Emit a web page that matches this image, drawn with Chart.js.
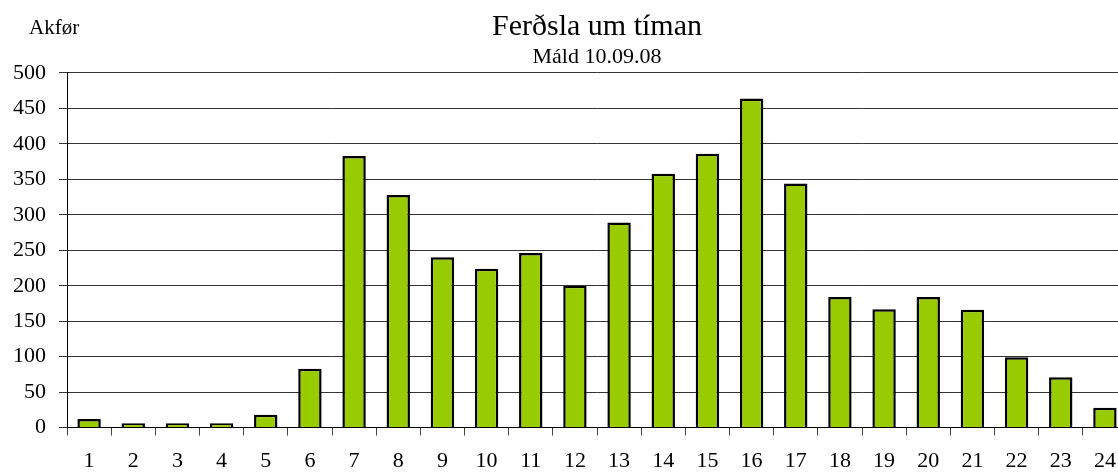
<!DOCTYPE html>
<html>
<head>
<meta charset="utf-8">
<script src="https://cdn.jsdelivr.net/npm/chart.js@4/dist/chart.umd.min.js"></script>
<style>
  html, body { margin: 0; padding: 0; background: #fff; overflow: hidden; }
  #box { width: 1200px; height: 486px; }
</style>
</head>
<body>
<div id="box"><canvas id="trafficChart" width="1200" height="486"></canvas></div>
<script>
const CHART = document.getElementById("trafficChart");

// timar (1-24) og akfør pr. tima
const hours = ["1", "2", "3", "4", "5", "6", "7", "8", "9", "10", "11", "12",
  "13", "14", "15", "16", "17", "18", "19", "20", "21", "22", "23", "24"];
const akfor = [12, 6, 6, 6, 18, 83, 383, 328, 240, 224, 246, 200,
  289, 358, 386, 464, 344, 184, 167, 184, 166, 99, 71, 28];
const yMin = 0;
const yMax = 500;
const yStep = 50;

const titleText = "Ferðsla um tíman";
const subtitleText = "Máld 10.09.08";
const yLabel = "Akfør";

const FONT = "'Liberation Serif', 'Times New Roman', serif";

// "Akfør" uppi til vinstru
const axisLabelPlugin = {
  id: "axisLabel",
  afterDraw(chart) {
    let ctx = chart.ctx;
    ctx.save();
    ctx.font = "21px " + FONT;
    ctx.fillStyle = "#000";
    ctx.textAlign = "left";
    ctx.textBaseline = "alphabetic";
    ctx.fillText(yLabel, chart.chartArea.left - 38, 34);
    ctx.restore();
  }
};

let trafficChart = new Chart(CHART, {
  type: "bar",
  data: {
    labels: hours,
    datasets: [
      {
        label: "Akfør",
        data: akfor,
        backgroundColor: "#99CC00",
        borderColor: "#000000",
        borderWidth: 2.5,
        categoryPercentage: 1,
        barPercentage: 0.53
      }
    ]
  },
  options: {
    animation: false,
    responsive: false,
    layout: {
      padding: { left: 0, right: 73, top: 0, bottom: 0 }
    },
    plugins: {
      legend: { display: false },
      tooltip: { enabled: false },
      title: {
        display: true,
        fullSize: false,
        text: titleText,
        color: "#000",
        font: { family: FONT, size: 30, weight: "normal", lineHeight: 1.15 },
        padding: { top: 10, bottom: 0 }
      },
      subtitle: {
        display: true,
        fullSize: false,
        text: subtitleText,
        color: "#000",
        font: { family: FONT, size: 22, weight: "normal", lineHeight: 1.2 },
        padding: { top: 0, bottom: 2 }
      }
    },
    scales: {
      x: {
        offset: true,
        grid: {
          offset: true,
          drawOnChartArea: false,
          drawTicks: true,
          tickLength: 8,
          color: "#444"
        },
        border: { color: "#000", width: 1 },
        ticks: {
          color: "#000",
          padding: 12,
          maxRotation: 0,
          autoSkip: false,
          font: { family: FONT, size: 22 }
        }
      },
      y: {
        min: yMin,
        max: yMax,
        grid: {
          color: "#333",
          lineWidth: 1,
          tickLength: 8
        },
        border: { color: "#000", width: 1 },
        ticks: {
          stepSize: yStep,
          color: "#000",
          padding: 13,
          font: { family: FONT, size: 22 }
        }
      }
    }
  },
  plugins: [axisLabelPlugin]
});
</script>
</body>
</html>
